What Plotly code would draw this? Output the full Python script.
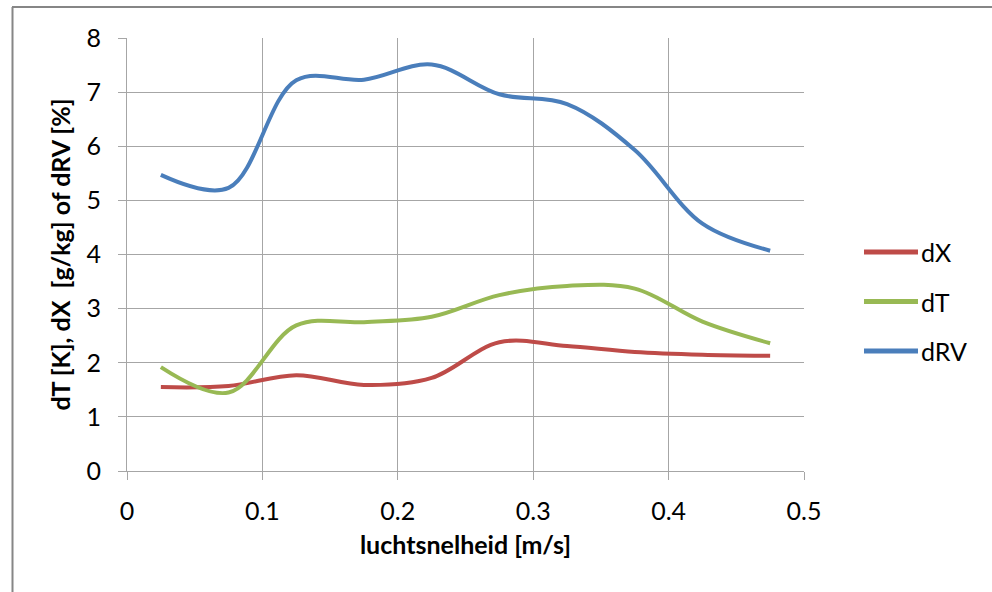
import plotly.graph_objects as go

# air velocity [m/s]
snelheid = [0.025, 0.075, 0.125, 0.175, 0.225, 0.275, 0.325, 0.375, 0.425, 0.475]

# measured differences per velocity
dX = [1.55, 1.57, 1.77, 1.59, 1.72, 2.38, 2.31, 2.20, 2.15, 2.13]
dT = [1.92, 1.45, 2.69, 2.75, 2.85, 3.25, 3.42, 3.37, 2.76, 2.36]
dRV = [5.47, 5.23, 7.22, 7.23, 7.51, 6.96, 6.78, 5.93, 4.57, 4.07]

series = [("dX", dX, "#BE4B48"), ("dT", dT, "#98B954"), ("dRV", dRV, "#4A7EBB")]

W, H = 992, 592
ML, MR, MT, MB = 127, 188, 38, 121
PW, PH = W - ML - MR, H - MT - MB

def px_x(px):
    return (px - ML) / PW

def px_y(py):
    return (H - MB - py) / PH

FONT = "Lato, Carlito, Calibri, sans-serif"
GRID = "#A6A6A6"
FS = 25

fig = go.Figure()
for name, vals, col in series:
    fig.add_trace(go.Scatter(
        x=snelheid, y=vals, name=name, mode="lines",
        line=dict(color=col, width=4, shape="spline", smoothing=1),
        showlegend=False,
    ))

shapes = []
annotations = []

# legend: coloured line segment plus label, stacked vertically
for i, (name, vals, col) in enumerate(series):
    yy = px_y(252 + 49.5 * i)
    shapes.append(dict(type="line", xref="paper", yref="paper",
                       x0=px_x(864), x1=px_x(918), y0=yy, y1=yy,
                       line=dict(color=col, width=5)))
    annotations.append(dict(text=name, xref="paper", yref="paper",
                            x=px_x(919), y=yy, xanchor="left", yanchor="middle",
                            showarrow=False, font=dict(size=FS, color="#000000", family=FONT)))

# chart-area frame (top and left edges)
shapes.append(dict(type="line", xref="paper", yref="paper",
                   x0=px_x(12), x1=px_x(W + 5), y0=px_y(7), y1=px_y(7),
                   line=dict(color="#868686", width=2)))
shapes.append(dict(type="line", xref="paper", yref="paper",
                   x0=px_x(12.5), x1=px_x(12.5), y0=px_y(7), y1=px_y(H + 5),
                   line=dict(color="#868686", width=2)))

fig.update_layout(
    width=W, height=H,
    margin=dict(l=ML, r=MR, t=MT, b=MB, autoexpand=False),
    paper_bgcolor="white", plot_bgcolor="white",
    font=dict(family=FONT, size=FS, color="#000000"),
    shapes=shapes, annotations=annotations,
    showlegend=False,
)

fig.update_xaxes(
    range=[0, 0.5], tickvals=[0, 0.1, 0.2, 0.3, 0.4, 0.5],
    ticktext=["0", "0.1", "0.2", "0.3", "0.4", "0.5"],
    showgrid=True, gridcolor=GRID, gridwidth=1,
    showline=True, linecolor=GRID, linewidth=1,
    ticks="outside", ticklen=8, tickcolor=GRID, ticklabelstandoff=10,
    zeroline=False, mirror=False,
    tickfont=dict(size=FS, family=FONT, color="#000000"),
    title=dict(text="<b>luchtsnelheid [m/s]</b>", standoff=12,
               font=dict(size=FS, family=FONT, color="#000000")),
)
fig.update_yaxes(
    range=[0, 8], tickvals=list(range(0, 9)),
    showgrid=True, gridcolor=GRID, gridwidth=1,
    showline=True, linecolor=GRID, linewidth=1,
    ticks="outside", ticklen=8, tickcolor=GRID, ticklabelstandoff=12,
    zeroline=False,
    tickfont=dict(size=FS, family=FONT, color="#000000"),
    title=dict(text="<b>dT [K], dX  [g/kg] of dRV [%]</b>", standoff=8,
               font=dict(size=FS, family=FONT, color="#000000")),
)

fig.write_html("out.html")
